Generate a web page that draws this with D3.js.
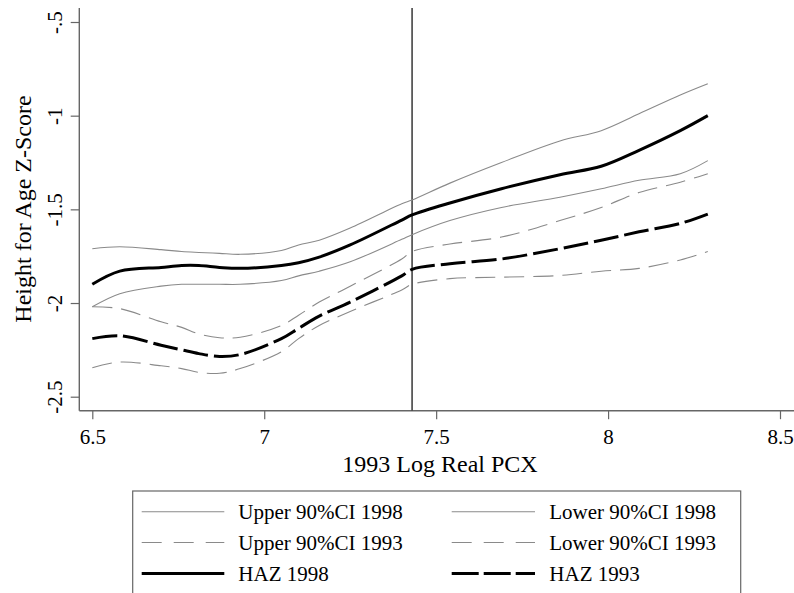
<!DOCTYPE html>
<html>
<head>
<meta charset="utf-8">
<script src="https://cdn.jsdelivr.net/npm/d3@7"></script>
<style>
  body { margin: 0; background: #fff; }
  text { font-family: "Liberation Serif", "Times New Roman", serif; fill: #000; }
</style>
</head>
<body>
<script>

// log real PCX grid
var xVals = [6.5, 6.58, 6.7, 6.76, 6.81, 6.87, 6.93, 7.05, 7.1, 7.16, 7.25, 7.4, 7.43, 7.54, 7.69, 7.86, 7.98, 8.09, 8.21, 8.29];

var upper98 = [-1.71, -1.70, -1.715, -1.725, -1.73, -1.735, -1.74, -1.72, -1.69, -1.665, -1.60, -1.47, -1.45, -1.36, -1.25, -1.135, -1.08, -0.99, -0.89, -0.83];
var haz98   = [-1.90, -1.83, -1.81, -1.80, -1.80, -1.81, -1.815, -1.80, -1.785, -1.755, -1.69, -1.557, -1.53, -1.466, -1.39, -1.315, -1.27, -1.185, -1.08, -1.00];
var lower98 = [-2.02, -1.95, -1.91, -1.90, -1.90, -1.90, -1.90, -1.88, -1.855, -1.83, -1.78, -1.66, -1.635, -1.56, -1.49, -1.435, -1.39, -1.345, -1.31, -1.24];
var upper93 = [-2.02, -2.03, -2.10, -2.13, -2.165, -2.185, -2.183, -2.12, -2.065, -1.995, -1.91, -1.765, -1.725, -1.685, -1.648, -1.56, -1.49, -1.41, -1.355, -1.31];
var haz93   = [-2.19, -2.175, -2.225, -2.25, -2.27, -2.285, -2.275, -2.19, -2.135, -2.07, -1.995, -1.855, -1.82, -1.79, -1.765, -1.71, -1.665, -1.62, -1.575, -1.525];
var lower93 = [-2.345, -2.315, -2.335, -2.35, -2.37, -2.375, -2.35, -2.26, -2.19, -2.12, -2.045, -1.93, -1.90, -1.87, -1.862, -1.853, -1.83, -1.815, -1.77, -1.725];

var meanPCX = 7.43;

var xTicks = [6.5, 7, 7.5, 8, 8.5];
var yTicks = [-2.5, -2, -1.5, -1, -0.5];

var seriesNames = ["Upper 90%CI 1998", "Lower 90%CI 1998", "Upper 90%CI 1993", "Lower 90%CI 1993", "HAZ 1998", "HAZ 1993"];

var width = 794;
var height = 593;

var ciGray = "#8a8a8a";
var axisGray = "#666";

// styles per series, same order as seriesNames
var styles = [
	{ data: upper98, color: ciGray, w: 1.1, dash: null },
	{ data: lower98, color: ciGray, w: 1.1, dash: null },
	{ data: upper93, color: ciGray, w: 1.1, dash: "20,9" },
	{ data: lower93, color: ciGray, w: 1.1, dash: "20,9" },
	{ data: haz98, color: "#000", w: 3, dash: null },
	{ data: haz93, color: "#000", w: 3, dash: "25,6" }
];

// stata style labels: -.5 rather than -0.5
function stataNum(d) {
	return String(d).replace(/^(-?)0\./, "$1.");
}

var scaleX = d3.scaleLinear()
		.domain([6.5, 8.5])
		.range([92.3, 780]);

var scaleY = d3.scaleLinear()
		.domain([-2.5, -0.5])
		.range([396.7, 22]);

var axisX0 = 79.3;
var axisY0 = 410.7;

var svg = d3.select("body")
		.append("svg")
		.attr("width", width)
		.attr("height", height);

svg.append("rect")
	.attr("width", width)
	.attr("height", height)
	.attr("fill", "#fff");

// axes
var gx = svg.append("g")
	.attr("transform", "translate(0," + axisY0 + ")")
	.call(d3.axisBottom(scaleX).tickValues(xTicks).tickSize(8.5).tickFormat(stataNum));
gx.select(".domain").remove();
gx.selectAll(".tick line").attr("stroke", axisGray).attr("stroke-width", 1.2);
gx.selectAll(".tick text")
	.attr("y", 33.5)
	.attr("dy", null)
	.style("font-size", "21px")
	.style("font-family", "'Liberation Serif', serif");

var gy = svg.append("g")
	.attr("transform", "translate(" + axisX0 + ",0)")
	.call(d3.axisLeft(scaleY).tickValues(yTicks).tickSize(8.6).tickFormat(stataNum));
gy.select(".domain").remove();
gy.selectAll(".tick line").attr("stroke", axisGray).attr("stroke-width", 1.2);
gy.selectAll(".tick text")
	.attr("x", null)
	.attr("dy", null)
	.attr("text-anchor", "middle")
	.attr("transform", "translate(-17.5,0) rotate(-90)")
	.style("font-size", "21px")
	.style("font-family", "'Liberation Serif', serif");

svg.append("line")
	.attr("x1", axisX0).attr("x2", axisX0)
	.attr("y1", 8).attr("y2", axisY0)
	.attr("stroke", axisGray).attr("stroke-width", 1.4);

svg.append("line")
	.attr("x1", axisX0).attr("x2", width)
	.attr("y1", axisY0).attr("y2", axisY0)
	.attr("stroke", axisGray).attr("stroke-width", 1.4);

// axis titles
svg.append("text")
	.attr("x", 440)
	.attr("y", 472)
	.attr("text-anchor", "middle")
	.style("font-size", "24px")
	.text("1993 Log Real PCX");

svg.append("text")
	.attr("transform", "translate(31,209) rotate(-90)")
	.attr("text-anchor", "middle")
	.style("font-size", "24px")
	.text("Height for Age Z-Score");

// vertical reference line at mean log PCX
svg.append("line")
	.attr("x1", scaleX(meanPCX)).attr("x2", scaleX(meanPCX))
	.attr("y1", 8).attr("y2", axisY0)
	.attr("stroke", "#444").attr("stroke-width", 1.6);

// curves
var line = d3.line()
	.x(function(d) { return scaleX(d[0]); })
	.y(function(d) { return scaleY(d[1]); })
	.curve(d3.curveCatmullRom.alpha(0.5));

styles.forEach(function(s) {
	var pts = xVals.map(function(x, i) { return [x, s.data[i]]; });
	svg.append("path")
		.datum(pts)
		.attr("d", line)
		.attr("fill", "none")
		.attr("stroke", s.color)
		.attr("stroke-width", s.w)
		.attr("stroke-dasharray", s.dash);
});

// legend
svg.append("rect")
	.attr("x", 132.7)
	.attr("y", 491)
	.attr("width", 608)
	.attr("height", 130)
	.attr("fill", "none")
	.attr("stroke", axisGray)
	.attr("stroke-width", 1.2);

var rowY = [511.7, 542.5, 573.5];
var colLine = [[141.7, 224.3], [451.7, 535]];
var colText = [238.3, 549.3];

seriesNames.forEach(function(name, i) {
	var row = Math.floor(i / 2);
	var col = i % 2;
	var s = styles[i];
	svg.append("line")
		.attr("x1", colLine[col][0]).attr("x2", colLine[col][1])
		.attr("y1", rowY[row]).attr("y2", rowY[row])
		.attr("stroke", s.color)
		.attr("stroke-width", s.w)
		.attr("stroke-dasharray", s.dash ? (i == 5 ? "27,5" : "20,12") : null);
	svg.append("text")
		.attr("x", colText[col])
		.attr("y", rowY[row] + 7.3)
		.style("font-size", "21px")
		.text(name);
});

</script>
</body>
</html>
